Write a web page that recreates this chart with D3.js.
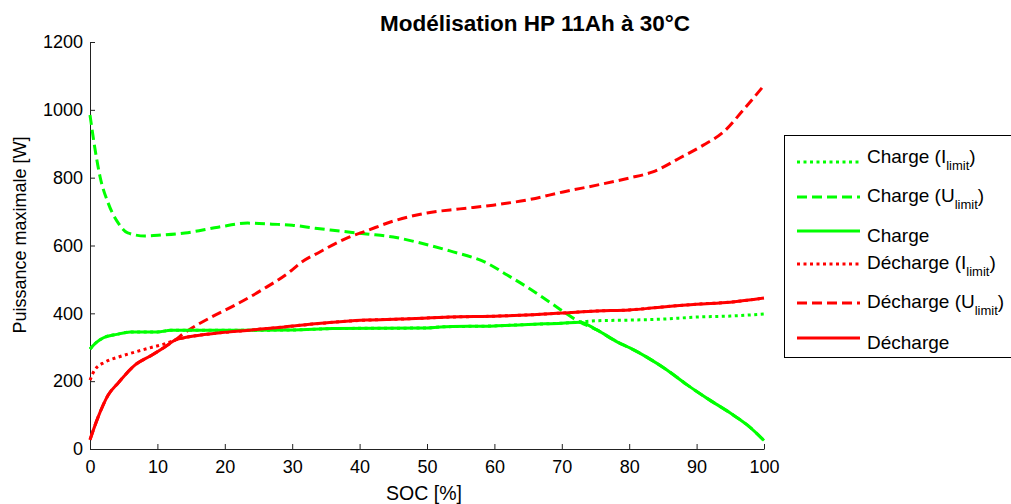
<!DOCTYPE html>
<html>
<head>
<meta charset="utf-8">
<script src="https://cdn.jsdelivr.net/npm/d3@7"></script>
<style>
  body { margin: 0; background: #fff; }
  text { font-family: "Liberation Sans", Arial, sans-serif; }
</style>
</head>
<body>
<div id="chart"></div>
<script>
// SOC [%] / puissance [W]
var chargeIlimSoc = [0, 1, 2, 4, 6, 10, 12, 20, 30, 36, 50, 52, 60, 66, 70, 73, 75, 80, 85, 90, 95, 100];
var chargeIlimP   = [295, 315, 328, 338, 345, 345, 350, 350, 351, 355, 357, 360, 363, 368, 371, 375, 378, 380, 383, 389, 392, 398];

var chargeUlimSoc = [0, 0.7, 1.5, 2.7, 4.2, 5.6, 8.2, 10.7, 14.1, 19, 23.4, 27, 30, 33.4, 36, 41, 45, 48.5, 53.4, 58.9, 61.9, 64.8, 68.2, 72.7, 75.2, 78.2, 80.1, 82.6, 85.6, 88.6, 91.5, 95, 97.5, 100];
var chargeUlimP   = [985, 890, 802, 725, 666, 637, 628, 631, 637, 654, 666, 663, 660, 651, 645, 634, 625, 610, 584, 548, 513, 478, 433, 374, 351, 316, 298, 271, 233, 189, 150, 106, 71, 25];

var chargeSoc = [0, 1, 2, 4, 6, 10, 12, 20, 30, 36, 50, 52, 60, 66, 70, 72.7, 75.2, 78.2, 80.1, 82.6, 85.6, 88.6, 91.5, 95, 97.5, 100];
var chargeP   = [295, 315, 328, 338, 345, 345, 350, 350, 351, 355, 357, 360, 363, 368, 371, 374, 351, 316, 298, 271, 233, 189, 150, 106, 71, 25];

var dechIlimSoc = [0, 0.7, 2.2, 4.2, 6.7, 9.2, 11.1, 12.6, 14.5, 19, 24, 28.9, 33.4, 41, 46, 53.4, 60.8, 65.7, 70.2, 75.2, 80, 85, 90, 95, 100];
var dechIlimP   = [203, 233, 256, 271, 286, 300, 310, 321, 330, 342, 351, 360, 369, 380, 383, 389, 392, 396, 401, 407, 410, 419, 427, 433, 445];

var dechUlimSoc = [0, 1.2, 2.7, 4.2, 6.7, 9.2, 11.1, 12.6, 14, 18, 21.5, 25.5, 30, 31.2, 34.1, 38.1, 41, 45, 50, 54.9, 59.8, 65.3, 70.2, 75.2, 80, 83.5, 87.5, 91, 94, 96.9, 100];
var dechUlimP   = [27, 94, 159, 195, 248, 277, 301, 321, 342, 389, 424, 469, 528, 548, 581, 622, 643, 672, 696, 708, 719, 736, 758, 778, 799, 817, 858, 896, 935, 999, 1072];

var dechSoc = [0, 1.2, 2.7, 4.2, 6.7, 9.2, 11.1, 12.6, 14.5, 19, 24, 28.9, 33.4, 41, 46, 53.4, 60.8, 65.7, 70.2, 75.2, 80, 85, 90, 95, 100];
var dechP   = [27, 94, 159, 195, 248, 277, 301, 321, 330, 342, 351, 360, 369, 380, 383, 389, 392, 396, 401, 407, 410, 419, 427, 433, 445];

var xTicks = [0, 10, 20, 30, 40, 50, 60, 70, 80, 90, 100];
var yTicks = [0, 200, 400, 600, 800, 1000, 1200];

var legendNames = ["Charge", "Charge", "Charge", "Décharge", "Décharge", "Décharge"];
var legendSubs  = ["I", "U", "", "I", "U", ""];

var W = 1011, H = 504;
var mLeft = 90, mRight = 764, mTop = 42, mBottom = 449;

var svg = d3.select("#chart").append("svg")
    .attr("width", W)
    .attr("height", H);

var x = d3.scaleLinear().domain([0, 100]).range([mLeft, mRight]);
var y = d3.scaleLinear().domain([0, 1200]).range([mBottom, mTop]);

// axes (ticks inside, like matlab)
var xAxis = svg.append("g")
    .attr("transform", "translate(0," + mBottom + ")")
    .call(d3.axisBottom(x).tickValues(xTicks).tickFormat(d3.format("d"))
        .tickSizeInner(-5).tickSizeOuter(0).tickPadding(11));
var yAxis = svg.append("g")
    .attr("transform", "translate(" + mLeft + ",0)")
    .call(d3.axisLeft(y).tickValues(yTicks).tickFormat(d3.format("d"))
        .tickSizeInner(-5).tickSizeOuter(0).tickPadding(7));
[xAxis, yAxis].forEach(function(a) {
    a.select(".domain").attr("stroke", "#222");
    a.selectAll(".tick line").attr("stroke", "#222");
    a.selectAll(".tick text")
        .style("font-size", "18px")
        .style("font-family", "'Liberation Sans', Arial, sans-serif")
        .attr("fill", "#000");
});

var line = d3.line()
    .x(function(d) { return x(d[0]); })
    .y(function(d) { return y(d[1]); })
    .curve(d3.curveMonotoneX);

function pairs(a, b) { return a.map(function(v, i) { return [v, b[i]]; }); }

var series = [
    { soc: chargeUlimSoc, p: chargeUlimP, color: "#00ff00", dash: "10,5" },
    { soc: dechUlimSoc, p: dechUlimP, color: "#ff0000", dash: "10,5" },
    { soc: chargeIlimSoc, p: chargeIlimP, color: "#00ff00", dash: "3,3.5" },
    { soc: dechIlimSoc, p: dechIlimP, color: "#ff0000", dash: "3,3.5" },
    { soc: chargeSoc, p: chargeP, color: "#00ff00", dash: null },
    { soc: dechSoc, p: dechP, color: "#ff0000", dash: null }
];

series.forEach(function(s) {
    svg.append("path")
        .datum(pairs(s.soc, s.p))
        .attr("d", line)
        .attr("fill", "none")
        .attr("stroke", s.color)
        .attr("stroke-width", 3)
        .attr("stroke-dasharray", s.dash);
});

// title and labels
svg.append("text")
    .attr("x", 535)
    .attr("y", 31)
    .attr("text-anchor", "middle")
    .style("font-size", "22.5px")
    .style("font-weight", "bold")
    .text("Modélisation HP 11Ah à 30°C");

svg.append("text")
    .attr("x", 424)
    .attr("y", 500)
    .attr("text-anchor", "middle")
    .style("font-size", "19.5px")
    .text("SOC [%]");

svg.append("text")
    .attr("transform", "translate(26,235) rotate(-90)")
    .attr("text-anchor", "middle")
    .style("font-size", "18px")
    .text("Puissance maximale [W]");

// legend
var leg = svg.append("g");
leg.append("rect")
    .attr("x", 784.5)
    .attr("y", 135.5)
    .attr("width", 240)
    .attr("height", 222)
    .attr("fill", "#fff")
    .attr("stroke", "#000")
    .attr("stroke-width", 1);

var legY = [162, 197, 231, 264, 303, 338];
var legBase = [163, 202, 241.5, 269, 308, 348.5];
var legColor = ["#00ff00", "#00ff00", "#00ff00", "#ff0000", "#ff0000", "#ff0000"];
var legDash = ["3,3.5", "10,5", null, "3,3.5", "10,5", null];

legendNames.forEach(function(name, i) {
    leg.append("line")
        .attr("x1", 797).attr("x2", 860)
        .attr("y1", legY[i]).attr("y2", legY[i])
        .attr("stroke", legColor[i])
        .attr("stroke-width", 3)
        .attr("stroke-dasharray", legDash[i]);
    var t = leg.append("text")
        .attr("x", 867)
        .attr("y", legBase[i])
        .style("font-size", "19px");
    if (legendSubs[i] === "") {
        t.text(name);
    } else {
        t.append("tspan").text(name + " (" + legendSubs[i]);
        t.append("tspan").attr("dy", 7).style("font-size", "13px").text("limit");
        t.append("tspan").attr("dy", -7).text(")");
    }
});
</script>
</body>
</html>
